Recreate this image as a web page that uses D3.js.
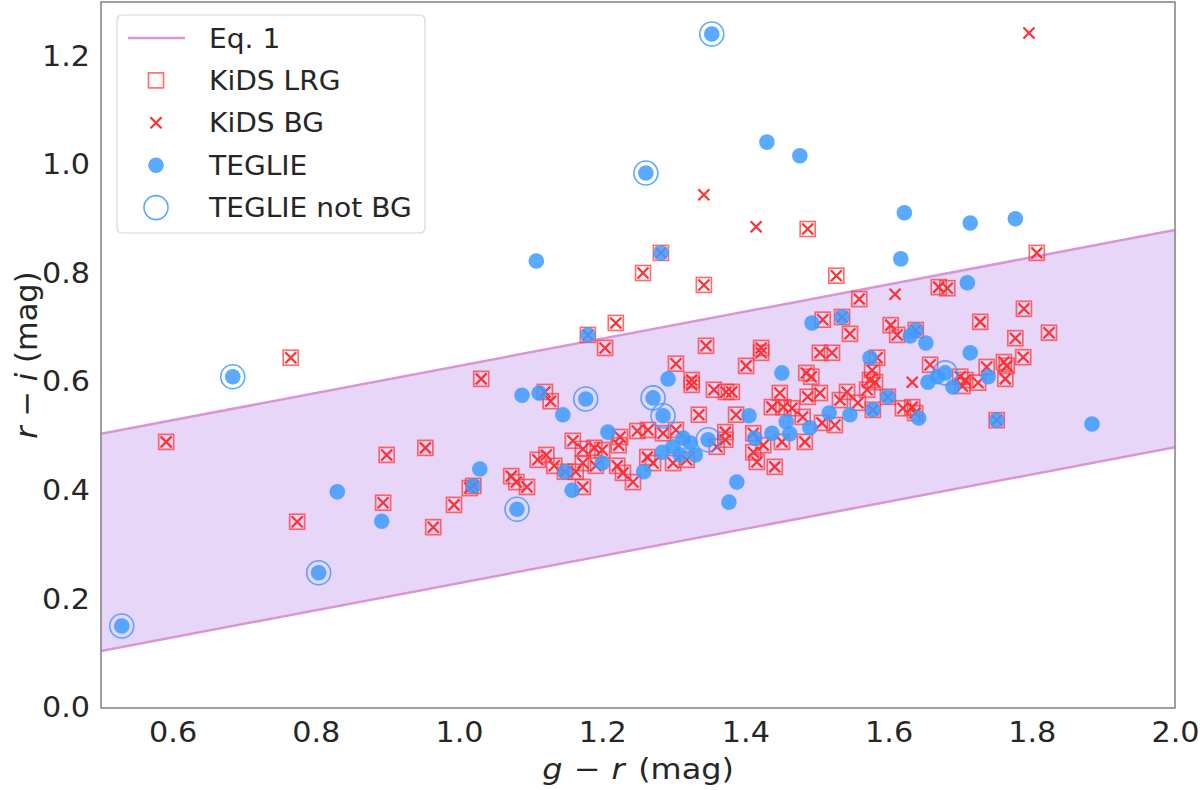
<!DOCTYPE html>
<html>
<head>
    <meta charset="UTF-8">
    <title>g-r vs r-i colour diagram</title>
    <style>
        body { margin: 0; background: #fff; }
        svg { display: block; font-family: "DejaVu Sans", sans-serif; }
        .tick text { fill: #262626; font-size: 27.5px; }
        .lab { fill: #262626; }
        .leg text { fill: #262626; font-size: 26.5px; }
    </style>
    <script src="https://d3js.org/d3.v7.min.js"></script>
</head>
<body>
<div id="chart"></div>
<script>
// Eq. 1 band: r-i = slope*(g-r) + offset, lower and upper edge
var eqSlope = 0.25;
var eqOffsets = [-0.02, 0.38];

var xTicks = [0.6, 0.8, 1.0, 1.2, 1.4, 1.6, 1.8, 2.0];
var yTicks = [0.0, 0.2, 0.4, 0.6, 0.8, 1.0, 1.2];

// [g-r, r-i] : KiDS objects that are both LRG and BG
var kidsBoth = [
    [1.282,0.838],[1.257,0.801],[1.342,0.779],[1.527,0.796],[1.559,0.753],[1.487,0.882],[1.807,0.838],
    [1.670,0.775],[1.682,0.773],[0.765,0.645],[0.591,0.490],[0.899,0.466],[0.953,0.479],[0.894,0.378],
    [0.774,0.343],[0.964,0.333],[0.993,0.374],[1.015,0.405],[1.020,0.409],[1.031,0.606],[1.073,0.427],
    [1.080,0.416],[1.095,0.407],[1.110,0.457],[1.122,0.466],[1.133,0.446],[1.148,0.435],[1.163,0.435],
    [1.173,0.451],[1.173,0.407],[1.159,0.492],[1.173,0.477],[1.189,0.479],[1.200,0.475],[1.191,0.446],
    [1.221,0.446],[1.229,0.433],[1.243,0.416],[1.263,0.462],[1.225,0.499],[1.223,0.484],[1.249,0.510],
    [1.120,0.582],[1.128,0.565],[1.180,0.687],[1.219,0.709],[1.204,0.663],[1.508,0.715],[1.535,0.720],
    [1.546,0.689],[1.345,0.667],[1.422,0.663],[1.422,0.654],[1.303,0.634],[1.401,0.630],[1.504,0.654],
    [1.521,0.654],[1.325,0.604],[1.325,0.595],[1.485,0.617],[1.492,0.610],[1.356,0.586],[1.373,0.582],
    [1.381,0.582],[1.448,0.580],[1.487,0.573],[1.504,0.580],[1.542,0.582],[1.532,0.567],[1.557,0.562],
    [1.335,0.540],[1.387,0.540],[1.437,0.554],[1.453,0.554],[1.465,0.552],[1.480,0.536],[1.525,0.521],
    [1.507,0.525],[1.264,0.512],[1.285,0.506],[1.303,0.512],[1.372,0.508],[1.372,0.494],[1.411,0.506],
    [1.425,0.484],[1.451,0.490],[1.483,0.490],[1.411,0.471],[1.416,0.453],[1.441,0.444],[1.271,0.451],
    [1.299,0.451],[1.318,0.457],[1.360,0.481],[1.603,0.705],[1.612,0.687],[1.638,0.696],[1.728,0.711],
    [1.789,0.735],[1.824,0.691],[1.777,0.681],[1.788,0.646],[1.584,0.645],[1.577,0.622],[1.574,0.604],
    [1.581,0.600],[1.570,0.586],[1.658,0.632],[1.700,0.610],[1.707,0.604],[1.703,0.593],[1.725,0.599],
    [1.737,0.628],[1.765,0.630],[1.761,0.637],[1.763,0.606],[1.599,0.573],[1.578,0.549],[1.620,0.552],
    [1.633,0.554],[1.637,0.543],[1.751,0.530]
];

// KiDS BG that are not LRG
var kidsBgOnly = [[1.796,1.243],[1.342,0.945],[1.415,0.886],[1.609,0.762],[1.633,0.600]];

var kidsLRG = kidsBoth;
var kidsBG = kidsBoth.concat(kidsBgOnly);

// TEGLIE detections
var teglie = [
    [1.353,1.241],[1.261,0.985],[1.430,1.042],[1.476,1.017],[1.622,0.912],[1.617,0.827],[1.714,0.893],
    [1.777,0.901],[1.108,0.823],[0.684,0.610],[0.529,0.151],[0.804,0.249],[0.830,0.398],[0.892,0.344],
    [1.081,0.366],[1.388,0.416],[1.377,0.379],[1.158,0.401],[1.148,0.435],[1.020,0.409],[1.029,0.440],
    [1.258,0.435],[1.088,0.576],[1.112,0.580],[1.145,0.540],[1.177,0.569],[1.271,0.571],[1.285,0.538],
    [1.180,0.687],[1.208,0.508],[1.200,0.451],[1.493,0.709],[1.535,0.720],[1.574,0.645],[1.292,0.606],
    [1.451,0.617],[1.348,0.494],[1.405,0.538],[1.413,0.497],[1.437,0.506],[1.517,0.543],[1.546,0.540],
    [1.490,0.516],[1.457,0.527],[1.462,0.505],[1.284,0.471],[1.299,0.481],[1.309,0.466],[1.330,0.466],
    [1.313,0.497],[1.323,0.488],[1.638,0.696],[1.630,0.685],[1.652,0.672],[1.710,0.783],[1.714,0.654],
    [1.679,0.617],[1.668,0.610],[1.655,0.600],[1.690,0.591],[1.739,0.610],[1.599,0.573],[1.578,0.549],
    [1.642,0.534],[1.751,0.530],[1.884,0.523],[1.282,0.838]
];

// TEGLIE detections not in KiDS BG
var teglieNotBG = [
    [1.353,1.241],[1.261,0.985],[0.684,0.610],[0.529,0.151],[0.804,0.249],[1.081,0.366],
    [1.177,0.569],[1.271,0.571],[1.285,0.538],[1.348,0.494],[1.679,0.617]
];

var legendLabels = ["Eq. 1", "KiDS LRG", "KiDS BG", "TEGLIE", "TEGLIE not BG"];

var W = 1200, H = 790;
var plot = {left: 101, right: 1175, top: 2, bottom: 708};
var stretch = "scale(1.1,1)"; // text in the reference is a bit wider than tall

var bandFill = "#e8d6f8",
    bandLine = "#d896d8",
    red = "#ff3030",
    blue = "#3d9bff";

var x = d3.scaleLinear().domain([0.5, 2.0]).range([plot.left, plot.right]);
var y = d3.scaleLinear().domain([0, 1.3]).range([plot.bottom, plot.top]);

var svg = d3.select("#chart").append("svg")
    .attr("width", W)
    .attr("height", H);

svg.append("defs").append("clipPath").attr("id", "clip")
    .append("rect")
    .attr("x", plot.left).attr("y", plot.top)
    .attr("width", plot.right - plot.left).attr("height", plot.bottom - plot.top);

var g = svg.append("g").attr("clip-path", "url(#clip)");

// Eq. 1 band
var xs = x.domain();
var band = d3.area()
    .x(function (d) { return x(d); })
    .y0(function (d) { return y(eqSlope * d + eqOffsets[0]); })
    .y1(function (d) { return y(eqSlope * d + eqOffsets[1]); });

g.append("path").datum(xs)
    .attr("d", band)
    .attr("fill", bandFill);

eqOffsets.forEach(function (off) {
    g.append("path").datum(xs)
        .attr("d", d3.line()
            .x(function (d) { return x(d); })
            .y(function (d) { return y(eqSlope * d + off); }))
        .attr("fill", "none")
        .attr("stroke", bandLine)
        .attr("stroke-width", 2.5);
});

var sq = 15, xh = 5.5;
var crossPath = "M" + (-xh) + "," + (-xh) + "L" + xh + "," + xh + "M" + (-xh) + "," + xh + "L" + xh + "," + (-xh);

// KiDS LRG squares
g.selectAll(".lrg").data(kidsLRG).enter().append("rect")
    .attr("class", "lrg")
    .attr("x", function (d) { return x(d[0]) - sq / 2; })
    .attr("y", function (d) { return y(d[1]) - sq / 2; })
    .attr("width", sq).attr("height", sq)
    .attr("fill", "none")
    .attr("stroke", red)
    .attr("stroke-opacity", 0.7)
    .attr("stroke-width", 1.7);

// KiDS BG crosses
g.selectAll(".bg").data(kidsBG).enter().append("path")
    .attr("class", "bg")
    .attr("transform", function (d) { return "translate(" + x(d[0]) + "," + y(d[1]) + ")"; })
    .attr("d", crossPath)
    .attr("fill", "none")
    .attr("stroke", red)
    .attr("stroke-width", 2.2);

// TEGLIE filled circles
g.selectAll(".teg").data(teglie).enter().append("circle")
    .attr("class", "teg")
    .attr("cx", function (d) { return x(d[0]); })
    .attr("cy", function (d) { return y(d[1]); })
    .attr("r", 7.8)
    .attr("fill", blue)
    .attr("fill-opacity", 0.85);

// TEGLIE not BG rings
g.selectAll(".ring").data(teglieNotBG).enter().append("circle")
    .attr("class", "ring")
    .attr("cx", function (d) { return x(d[0]); })
    .attr("cy", function (d) { return y(d[1]); })
    .attr("r", 12)
    .attr("fill", "none")
    .attr("stroke", blue)
    .attr("stroke-opacity", 0.85)
    .attr("stroke-width", 1.6);

// spines
svg.append("rect")
    .attr("x", plot.left).attr("y", plot.top)
    .attr("width", plot.right - plot.left).attr("height", plot.bottom - plot.top)
    .attr("fill", "none")
    .attr("stroke", "#808080")
    .attr("stroke-width", 1.5);

// axes
var xAxis = svg.append("g")
    .attr("transform", "translate(0," + plot.bottom + ")")
    .call(d3.axisBottom(x).tickValues(xTicks).tickFormat(d3.format(".1f")).tickSize(0).tickPadding(14));
xAxis.select(".domain").remove();
xAxis.selectAll("text").attr("font-family", "DejaVu Sans").attr("transform", stretch);

var yAxis = svg.append("g")
    .attr("transform", "translate(" + plot.left + ",0)")
    .call(d3.axisLeft(y).tickValues(yTicks).tickFormat(d3.format(".1f")).tickSize(0).tickPadding(10));
yAxis.select(".domain").remove();
yAxis.selectAll("text").attr("font-family", "DejaVu Sans").attr("transform", stretch);

// axis labels
var xl = svg.append("text").attr("class", "lab")
    .attr("font-size", 29)
    .attr("transform", "translate(" + ((plot.left + plot.right) / 2) + ",779) " + stretch)
    .attr("text-anchor", "middle");
xl.append("tspan").attr("font-style", "italic").text("g");
xl.append("tspan").attr("dx", 1).text(" \u2212 ");
xl.append("tspan").attr("dx", 1).attr("font-style", "italic").text("r");
xl.append("tspan").attr("dx", 3).text(" (mag)");

var yl = svg.append("text").attr("class", "lab")
    .attr("font-size", 30.5)
    .attr("transform", "translate(37," + ((plot.top + plot.bottom) / 2) + ") rotate(-90)")
    .attr("text-anchor", "middle");
yl.append("tspan").attr("font-style", "italic").text("r");
yl.append("tspan").text(" \u2212 ");
yl.append("tspan").attr("font-style", "italic").text("i");
yl.append("tspan").text(" (mag)");

// legend
var leg = svg.append("g").attr("class", "leg");
leg.append("rect")
    .attr("x", 117).attr("y", 15)
    .attr("width", 308).attr("height", 218)
    .attr("rx", 5)
    .attr("fill", "#fff").attr("fill-opacity", 0.85)
    .attr("stroke", "#d8d8d8").attr("stroke-width", 1.2);

var rowY = function (i) { return 38 + i * 42.4; };
var mx = 156;

leg.append("line")
    .attr("x1", 128).attr("x2", 185)
    .attr("y1", rowY(0)).attr("y2", rowY(0))
    .attr("stroke", bandLine).attr("stroke-width", 2.5);
leg.append("rect")
    .attr("x", mx - sq / 2).attr("y", rowY(1) - sq / 2)
    .attr("width", sq).attr("height", sq)
    .attr("fill", "none").attr("stroke", red).attr("stroke-opacity", 0.7).attr("stroke-width", 1.7);
leg.append("path")
    .attr("transform", "translate(" + mx + "," + rowY(2) + ")")
    .attr("d", crossPath)
    .attr("fill", "none").attr("stroke", red).attr("stroke-width", 2.2);
leg.append("circle")
    .attr("cx", mx).attr("cy", rowY(3)).attr("r", 7.8)
    .attr("fill", blue).attr("fill-opacity", 0.85);
leg.append("circle")
    .attr("cx", mx).attr("cy", rowY(4)).attr("r", 12)
    .attr("fill", "none").attr("stroke", blue).attr("stroke-opacity", 0.85).attr("stroke-width", 1.6);

leg.selectAll(".lt").data(legendLabels).enter().append("text")
    .attr("class", "lt")
    .attr("transform", function (d, i) { return "translate(209," + rowY(i) + ") scale(1.06,1)"; })
    .attr("dy", "0.36em")
    .text(function (d) { return d; });
</script>
</body>
</html>
